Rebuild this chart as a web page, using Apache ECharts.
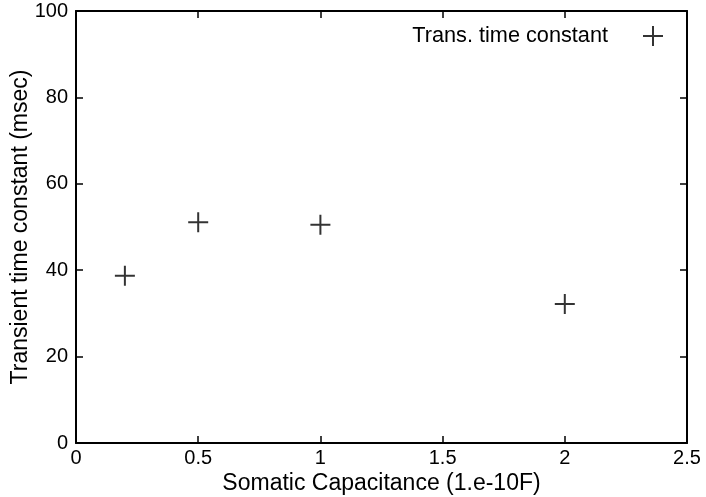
<!DOCTYPE html>
<html>
<head>
<meta charset="utf-8">
<script src="https://cdn.jsdelivr.net/npm/echarts@6/dist/echarts.min.js"></script>
<style>
  html, body { margin: 0; padding: 0; background: #fff; }
  #eChart { width: 706px; height: 497px; }
</style>
</head>
<body>
<div id="eChart"></div>
<script>
// values
const capacitance = [0.2, 0.5, 1, 2];
const timeConstant = [38.7, 51.1, 50.5, 32.2];
const seriesName = "Trans. time constant";
const xTitle = "Somatic Capacitance (1.e-10F)";
const yTitle = "Transient time constant (msec)";

const plus = "path://M0,9 H20 V11 H0 Z M9,0 H11 V20 H9 Z";
const font = "Liberation Sans, Arial, sans-serif";

const tickInside = () => ({ show: true, inside: true, length: 7, lineStyle: { color: "#000", width: 1.5 } });
const axisLine = () => ({ show: true, onZero: false, lineStyle: { color: "#000", width: 2 } });

const myChart = echarts.init(document.getElementById("eChart"), null, { renderer: "canvas" });

myChart.setOption({
  animation: false,
  grid: { left: 76, right: 19, top: 11, bottom: 54, outerBoundsMode: "none", containLabel: false },
  legend: {
    right: 38,
    top: 20,
    align: "right",
    itemWidth: 20,
    itemHeight: 20,
    icon: plus,
    data: [{ name: seriesName, itemStyle: { color: "#000" } }],
    textStyle: { fontFamily: font, fontSize: 21.7, color: "#000", padding: [0, 30, 0, 0] },
  },
  xAxis: [
    {
      type: "value",
      min: 0,
      max: 2.5,
      interval: 0.5,
      name: xTitle,
      nameLocation: "middle",
      nameGap: 29,
      nameMoveOverlap: false,
      nameTextStyle: { fontFamily: font, fontSize: 23, color: "#000" },
      axisLine: axisLine(),
      axisTick: tickInside(),
      splitLine: { show: false },
      axisLabel: { fontFamily: font, fontSize: 20, color: "#000", margin: 5 },
    },
    {
      type: "value",
      position: "top",
      min: 0,
      max: 2.5,
      interval: 0.5,
      axisLine: axisLine(),
      axisTick: tickInside(),
      splitLine: { show: false },
      axisLabel: { show: false },
    },
  ],
  yAxis: [
    {
      type: "value",
      min: 0,
      max: 100,
      interval: 20,
      name: yTitle,
      nameLocation: "middle",
      nameGap: 44,
      nameMoveOverlap: false,
      nameTextStyle: { fontFamily: font, fontSize: 23, color: "#000" },
      axisLine: axisLine(),
      axisTick: tickInside(),
      splitLine: { show: false },
      axisLabel: { fontFamily: font, fontSize: 20, color: "#000", margin: 8 },
    },
    {
      type: "value",
      position: "right",
      min: 0,
      max: 100,
      interval: 20,
      axisLine: axisLine(),
      axisTick: tickInside(),
      splitLine: { show: false },
      axisLabel: { show: false },
    },
  ],
  series: [
    {
      name: seriesName,
      type: "scatter",
      symbol: plus,
      symbolSize: 20,
      itemStyle: { color: "#000" },
      data: capacitance.map((c, i) => [c, timeConstant[i]]),
    },
  ],
});
</script>
</body>
</html>
